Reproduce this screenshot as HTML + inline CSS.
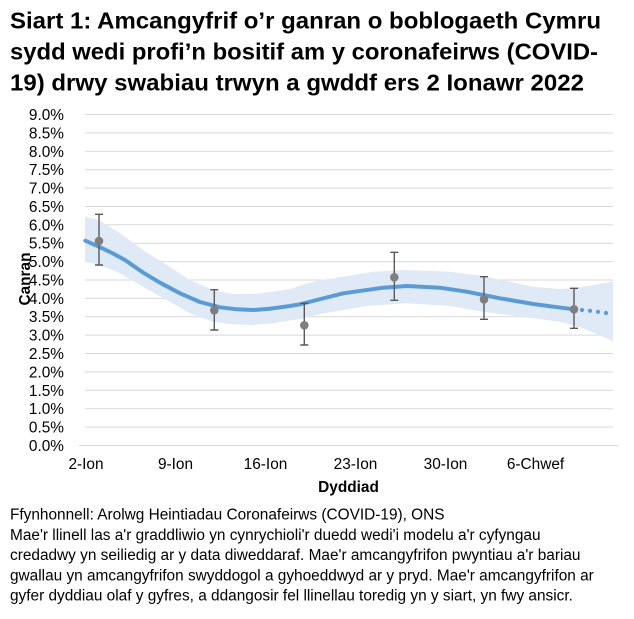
<!DOCTYPE html>
<html><head><meta charset="utf-8"><style>
html,body{margin:0;padding:0;background:#fff;}
svg{display:block;}
text{font-family:"Liberation Sans",Arial,sans-serif;fill:#000;}
</style></head><body>
<svg width="634" height="619" viewBox="0 0 634 619" xmlns="http://www.w3.org/2000/svg">
<rect width="634" height="619" fill="#fff"/>
<g font-weight="bold" font-size="23.5">
<text x="10" y="28.5" textLength="591" lengthAdjust="spacingAndGlyphs">Siart 1: Amcangyfrif o’r ganran o boblogaeth Cymru</text>
<text x="10" y="59.5" textLength="588" lengthAdjust="spacingAndGlyphs">sydd wedi profi’n bositif am y coronafeirws (COVID-</text>
<text x="10" y="90.5" textLength="574" lengthAdjust="spacingAndGlyphs">19) drwy swabiau trwyn a gwddf ers 2 Ionawr 2022</text>
</g>
<g stroke="#d9d9d9" stroke-width="1">
<line x1="85" x2="613" y1="114.5" y2="114.5"/>
<line x1="85" x2="613" y1="132.9" y2="132.9"/>
<line x1="85" x2="613" y1="151.3" y2="151.3"/>
<line x1="85" x2="613" y1="169.7" y2="169.7"/>
<line x1="85" x2="613" y1="188.1" y2="188.1"/>
<line x1="85" x2="613" y1="206.5" y2="206.5"/>
<line x1="85" x2="613" y1="224.8" y2="224.8"/>
<line x1="85" x2="613" y1="243.2" y2="243.2"/>
<line x1="85" x2="613" y1="261.6" y2="261.6"/>
<line x1="85" x2="613" y1="280.0" y2="280.0"/>
<line x1="85" x2="613" y1="298.4" y2="298.4"/>
<line x1="85" x2="613" y1="316.7" y2="316.7"/>
<line x1="85" x2="613" y1="335.1" y2="335.1"/>
<line x1="85" x2="613" y1="353.5" y2="353.5"/>
<line x1="85" x2="613" y1="371.9" y2="371.9"/>
<line x1="85" x2="613" y1="390.3" y2="390.3"/>
<line x1="85" x2="613" y1="408.7" y2="408.7"/>
<line x1="85" x2="613" y1="427.1" y2="427.1"/>
<line x1="79" x2="618" y1="445.5" y2="445.5"/>
</g>
<g font-size="15.4" text-anchor="end">
<text x="64" y="120">9.0%</text>
<text x="64" y="138.4">8.5%</text>
<text x="64" y="156.8">8.0%</text>
<text x="64" y="175.2">7.5%</text>
<text x="64" y="193.6">7.0%</text>
<text x="64" y="212">6.5%</text>
<text x="64" y="230.3">6.0%</text>
<text x="64" y="248.7">5.5%</text>
<text x="64" y="267.1">5.0%</text>
<text x="64" y="285.5">4.5%</text>
<text x="64" y="303.9">4.0%</text>
<text x="64" y="322.2">3.5%</text>
<text x="64" y="340.6">3.0%</text>
<text x="64" y="359">2.5%</text>
<text x="64" y="377.4">2.0%</text>
<text x="64" y="395.8">1.5%</text>
<text x="64" y="414.2">1.0%</text>
<text x="64" y="432.6">0.5%</text>
<text x="64" y="451">0.0%</text>
</g>
<g font-size="15.4" text-anchor="middle">
<text x="86" y="469">2-Ion</text>
<text x="175.5" y="469">9-Ion</text>
<text x="265.5" y="469">16-Ion</text>
<text x="355.5" y="469">23-Ion</text>
<text x="445.5" y="469">30-Ion</text>
<text x="535.5" y="469">6-Chwef</text>
</g>
<text x="348.5" y="492" font-size="15.4" font-weight="bold" text-anchor="middle">Dyddiad</text>
<text transform="translate(30,279) rotate(-90)" font-size="15.4" font-weight="bold" text-anchor="middle">Canran</text>
<polygon fill="#dfeaf6" points="85,216.7 99,220 120,233.3 143,250 166.7,265 190,280 213,290 233,294 253,294 273,291.7 293,288.3 300,285.5 320,280 333,278.3 373,271.7 406.7,270 450,271.7 483,276 533,286.7 560,289 583,286.7 613,281.5 613,341 583,328.3 560,321.7 533,318.3 483,311.7 450,306 406.7,303.3 366.7,306 333,311.7 320,314 300,319.3 293,320 273,323.3 253,325 233,324.3 213,321.7 190,313.3 166.7,300 143,286.7 120,273.3 99,265 85,261.7"/>
<polyline fill="none" stroke="#5b9bd5" stroke-width="4" stroke-linejoin="round" stroke-linecap="round" points="85.3,240.7 99,246.7 112,253 125,260 143.3,272.7 160,282.7 180,293.3 200,302 220,307.3 236.7,309.3 253.3,310 270,308.7 290,306 300,304.3 316.7,300 343.3,293.3 383.3,287.7 406.7,286 440,287.7 466.7,291.7 500,298.3 533.3,304 553.3,306.7 574,309.3"/>
<g fill="#5b9bd5">
<circle cx="582" cy="310" r="2.1"/>
<circle cx="590" cy="310.8" r="2.1"/>
<circle cx="598" cy="311.8" r="2.1"/>
<circle cx="606" cy="313" r="2.1"/>
</g>
<g stroke="#595959" stroke-width="1.4" fill="none">
<path d="M99,214.3V265M95,214.3H103M95,265H103"/>
<path d="M214.3,289.7V330M210.3,289.7H218.3M210.3,330H218.3"/>
<path d="M304.3,303.3V345M300.3,303.3H308.3M300.3,345H308.3"/>
<path d="M394.3,252.3V300.3M390.3,252.3H398.3M390.3,300.3H398.3"/>
<path d="M484,276.7V319.3M480,276.7H488M480,319.3H488"/>
<path d="M574,288.3V328.3M570,288.3H578M570,328.3H578"/>
</g>
<g fill="#7f7f7f">
<circle cx="99" cy="241" r="4.3"/>
<circle cx="214.3" cy="310.3" r="4.3"/>
<circle cx="304.3" cy="325.3" r="4.3"/>
<circle cx="394.3" cy="277.3" r="4.3"/>
<circle cx="484" cy="299.3" r="4.3"/>
<circle cx="574" cy="309.3" r="4.3"/>
</g>
<g font-size="15.4">
<text x="10" y="519.5">Ffynhonnell: Arolwg Heintiadau Coronafeirws (COVID-19), ONS</text>
<text x="10" y="539.8">Mae'r llinell las a'r graddliwio yn cynrychioli'r duedd wedi'i modelu a'r cyfyngau</text>
<text x="10" y="560">credadwy yn seiliedig ar y data diweddaraf. Mae'r amcangyfrifon pwyntiau a'r bariau</text>
<text x="10" y="580.3">gwallau yn amcangyfrifon swyddogol a gyhoeddwyd ar y pryd. Mae'r amcangyfrifon ar</text>
<text x="10" y="600.5">gyfer dyddiau olaf y gyfres, a ddangosir fel llinellau toredig yn y siart, yn fwy ansicr.</text>
</g>
</svg>
</body></html>
